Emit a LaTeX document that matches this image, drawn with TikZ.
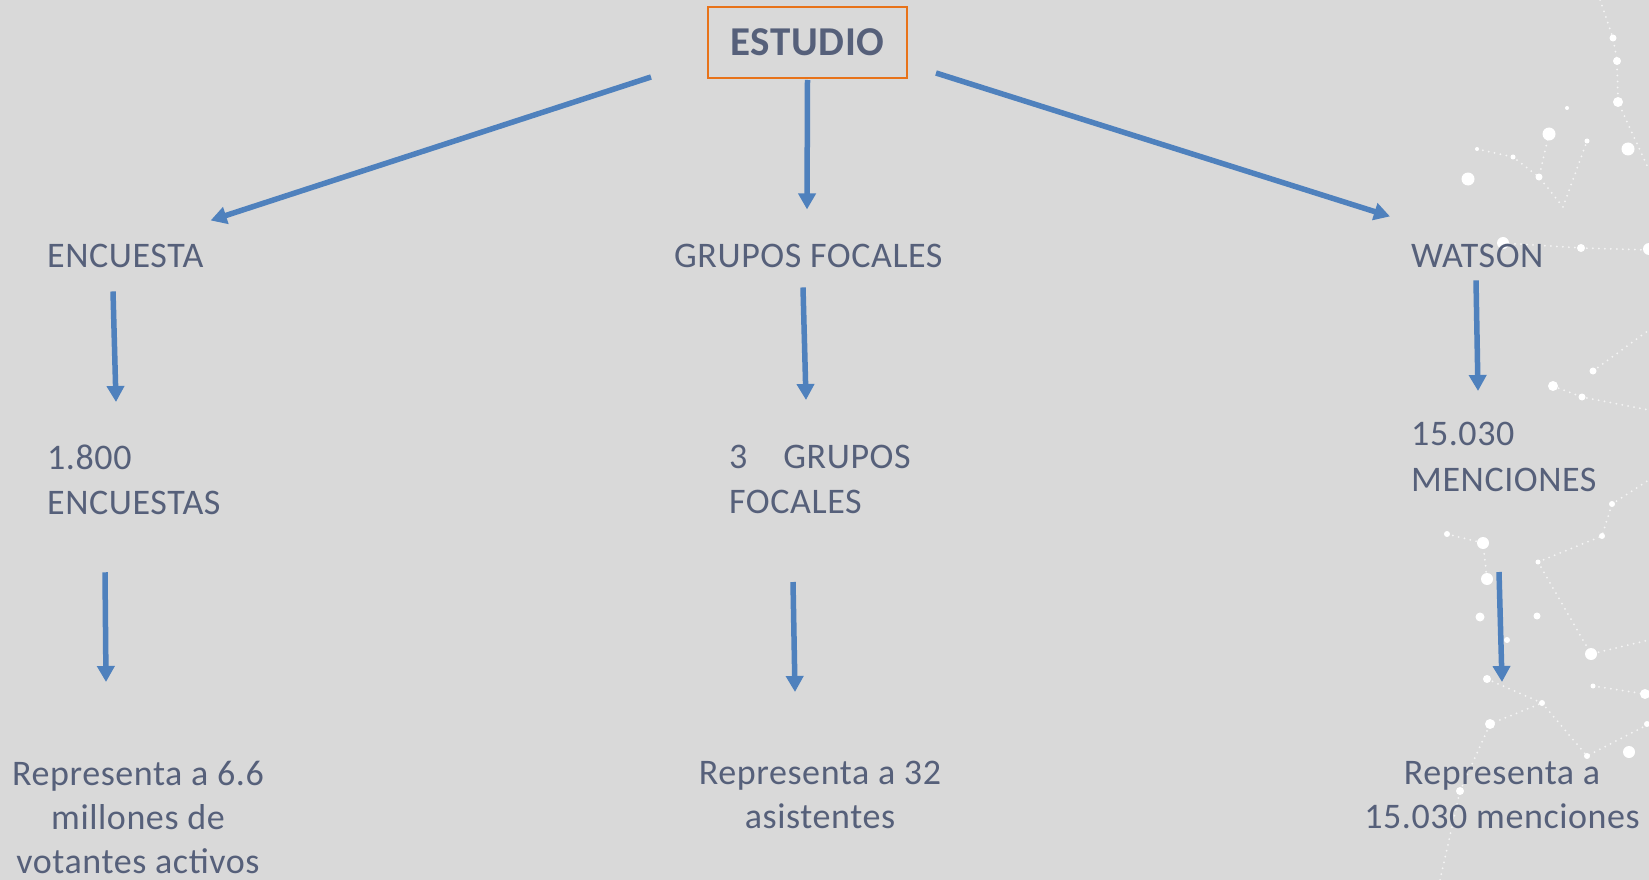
\documentclass[tikz,border=0pt]{standalone}
\usepackage{fontspec}
\setmainfont[LetterSpace=1.6]{Carlito}
\usetikzlibrary{arrows.meta,calc}
\definecolor{bg}{HTML}{D9D9D9}
\definecolor{txt}{HTML}{56607A}
\definecolor{arrblue}{HTML}{4F81BD}
\definecolor{boxorange}{HTML}{E8731A}
\begin{document}
\begin{tikzpicture}[x=1pt,y=-1pt,
  lbl/.style={inner sep=0pt,text=txt,font={\fontsize{36}{45}\selectfont}},
  lbltwo/.style={lbl,font={\fontsize{36}{46}\selectfont}},
  botlbl/.style={inner sep=0pt,text=txt,align=center,font={\fontsize{36}{44}\selectfont}},
  topbox/.style={draw=boxorange,line width=2pt,inner sep=0pt,minimum width=199pt,minimum height=71pt,text=txt,font={\fontsize{41}{48}\selectfont\bfseries}},
  arr/.style={draw=arrblue,line width=5.5pt,-{Triangle[length=16pt,width=17pt]}},
  star/.style={fill=white,draw=none},
  starline/.style={draw=white,line width=2pt,line cap=round,dash pattern=on 0pt off 6pt,opacity=0.75}]
\useasboundingbox (0,0) rectangle (1649,880);
\fill[bg] (0,0) rectangle (1649,880);
% decorative constellation
\begin{scope}
\draw[starline] (1477,149) -- (1513,157) -- (1539,177) -- (1563,207) -- (1587,141);
\draw[starline] (1549,134) -- (1539,177);
\draw[starline] (1600,0) -- (1613,38) -- (1617,61) -- (1618,102) -- (1649,170);
\draw[starline] (1503,243) -- (1581,248) -- (1649,250);
\draw[starline] (1553,386) -- (1582,397) -- (1649,410);
\draw[starline] (1593,371) -- (1649,330);
\draw[starline] (1447,534) -- (1483,543) -- (1487,579);
\draw[starline] (1538,562) -- (1602,536) -- (1612,504) -- (1649,480);
\draw[starline] (1538,562) -- (1591,654) -- (1649,640);
\draw[starline] (1487,679) -- (1542,703) -- (1587,756) -- (1649,724);
\draw[starline] (1460,791) -- (1490,724) -- (1542,703);
\draw[starline] (1593,686) -- (1645,694);
\draw[starline] (1440,880) -- (1460,791);
\fill[star] (1613,38) circle (3.5);
\fill[star] (1617,61) circle (4);
\fill[star] (1618,102) circle (5);
\fill[star] (1628,149) circle (6.5);
\fill[star] (1549,134) circle (6.5);
\fill[star] (1587,141) circle (2.5);
\fill[star] (1477,149) circle (2);
\fill[star] (1513,157) circle (2.5);
\fill[star] (1468,179) circle (6.5);
\fill[star] (1539,177) circle (3.5);
\fill[star] (1567,108) circle (2);
\fill[star] (1503,243) circle (6);
\fill[star] (1581,248) circle (4);
\fill[star] (1649,249) circle (6);
\fill[star] (1593,371) circle (3.5);
\fill[star] (1553,386) circle (5);
\fill[star] (1582,397) circle (3.5);
\fill[star] (1612,504) circle (3);
\fill[star] (1602,536) circle (3);
\fill[star] (1483,543) circle (6);
\fill[star] (1447,534) circle (3);
\fill[star] (1487,579) circle (6);
\fill[star] (1480,617) circle (4.5);
\fill[star] (1538,562) circle (2.5);
\fill[star] (1537,616) circle (3.5);
\fill[star] (1591,654) circle (6);
\fill[star] (1593,686) circle (2.5);
\fill[star] (1645,694) circle (5);
\fill[star] (1629,752) circle (6);
\fill[star] (1542,703) circle (3);
\fill[star] (1490,724) circle (5);
\fill[star] (1487,679) circle (4);
\fill[star] (1587,756) circle (3);
\fill[star] (1460,791) circle (4);
\fill[star] (1647,724) circle (3);
\fill[star] (1507,640) circle (3);
\end{scope}
% nodes
\node[topbox] (estudio) at (807.5,42.5) {ESTUDIO};
\node[lbl,anchor=base west] (enc) at (47,267) {ENCUESTA};
\node[lbl,anchor=base west] (grupos) at (674,267) {GRUPOS FOCALES};
\node[lbl,anchor=base west] (watson) at (1411,267) {WATSON};
\node[lbl,anchor=north west,align=left] (n1800) at (47,445) {1.800\\ENCUESTAS};
\node[lbl,anchor=north west,align=left] (g3) at (729,445) {3\hspace{36pt}GRUPOS\\FOCALES};
\node[lbltwo,anchor=north west,align=left] (m15) at (1411,422) {15.030\\MENCIONES};
\node[botlbl,anchor=north] (r1) at (138,761) {Representa a 6.6\\millones de\\votantes activos};
\node[botlbl,anchor=north] (r2) at (820,761) {Representa a 32\\asistentes};
\node[botlbl,anchor=north] (r3) at (1502,761) {Representa a\\15.030 menciones};
% connectors
\draw[arr] ($(estudio.south west)+(-56,-2)$) -- ($(enc.north east)+(7,-23)$);
\draw[arr] ($(estudio.south)+(0,1)$) -- ($(grupos.north west)+(133,-34)$);
\draw[arr] ($(estudio.south east)+(28,-6)$) -- ($(watson.north west)+(-21,-27)$);
\draw[arr] ($(enc.south west)+(66,24)$) -- ($(n1800.north west)+(69,-43)$);
\draw[arr] ($(grupos.south west)+(129,20)$) -- ($(g3.north west)+(77,-45)$);
\draw[arr] ($(watson.south west)+(65,13)$) -- ($(m15.north west)+(67,-31)$);
\draw[arr] ($(n1800.south west)+(58,57)$) -- ($(r1.north)+(-32,-79)$);
\draw[arr] ($(g3.south west)+(64,68)$) -- ($(r2.north)+(-25,-69)$);
\draw[arr] ($(m15.south west)+(88,80)$) -- ($(r3.north)+(0,-79)$);
\end{tikzpicture}
\end{document}
